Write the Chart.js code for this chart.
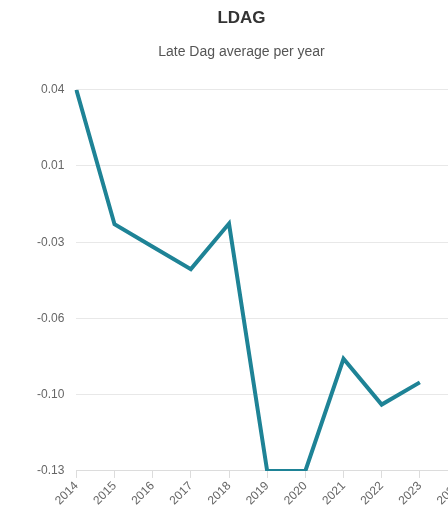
<!DOCTYPE html>
<html>
<head>
<meta charset="utf-8">
<script src="https://cdn.jsdelivr.net/npm/chart.js@4/dist/chart.umd.min.js"></script>
<style>
  html, body { margin: 0; padding: 0; background: #fff; overflow: hidden; }
  #wrap { width: 486px; height: 509px; }
</style>
</head>
<body>
<div id="wrap"><canvas id="myChart"></canvas></div>
<script>
// years on the x axis (the chart runs past the right edge of the picture)
const years = ["2014","2015","2016","2017","2018","2019","2020","2021","2022","2023","2024"];
// late dag yearly average
const lateDag = [0.04, -0.020, -0.030, -0.040, -0.0197, -0.13, -0.13, -0.080, -0.1004, -0.0905, null];
const yMin = -0.13;
const yMax = 0.04;

Chart.defaults.font.family = "'Liberation Sans', Arial, sans-serif";

let ctx = document.getElementById('myChart').getContext('2d');
let lineChart = new Chart(ctx, {
  type: "line",
  data: {
    labels: years,
    datasets: [{
      label: "LDAG",
      data: lateDag,
      borderColor: 'rgb(30, 131, 150)',
      borderWidth: 4,
      pointRadius: 0,
      tension: 0,
      fill: false
    }]
  },
  options: {
    responsive: true,
    maintainAspectRatio: false,
    animation: false,
    layout: { padding: { left: 25, right: 28, top: 0, bottom: 0 } },
    plugins: {
      legend: { display: false },
      tooltip: { enabled: false },
      title: {
        display: true,
        text: "LDAG",
        color: '#333',
        font: { size: 17, weight: 'bold' },
        padding: { top: 8, bottom: 15 }
      },
      subtitle: {
        display: true,
        text: "Late Dag average per year",
        color: '#555',
        font: { size: 14 },
        padding: { top: 0, bottom: 29.5 }
      }
    },
    scales: {
      x: {
        offset: false,
        grid: { drawOnChartArea: false, drawTicks: true, tickLength: 7, color: '#dcdcdc' },
        border: { color: '#dcdcdc' },
        ticks: { color: '#666', font: { size: 12 }, minRotation: 45, maxRotation: 45, padding: 1, autoSkip: false }
      },
      y: {
        min: yMin,
        max: yMax,
        grid: { color: '#e8e8e8', drawTicks: false },
        border: { display: false },
        ticks: {
          count: 6,
          color: '#666',
          font: { size: 12 },
          padding: 12,
          callback: v => v.toFixed(2)
        }
      }
    }
  }
});
</script>
</body>
</html>
